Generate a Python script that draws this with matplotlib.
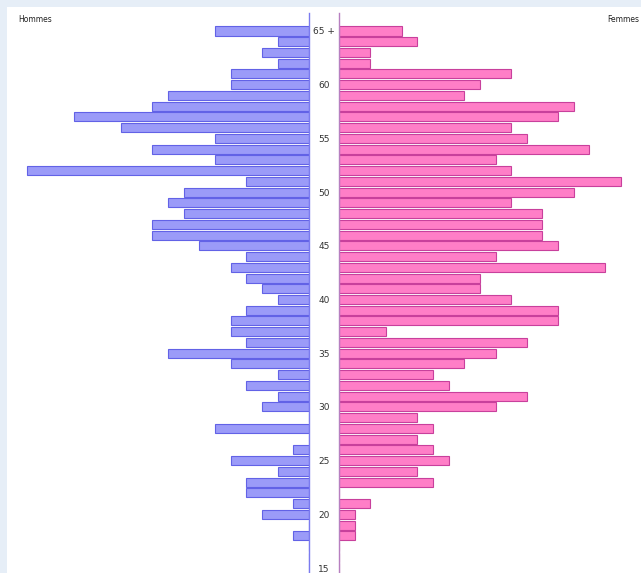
import numpy as np
import matplotlib
matplotlib.use("Agg")
from matplotlib import pyplot as plt

# ages from 65+ down to 15
ages = np.arange(65, 14, -1)
# counts (Hommes / Femmes), same order as ages
hommes = [6, 2, 3, 2, 5, 5, 9, 10, 15, 12,
          6, 10, 6, 18, 4, 8, 9, 8, 10, 10,
          7, 4, 5, 4, 3, 2, 4, 5, 5, 4,
          9, 5, 2, 4, 2, 3, 0, 6, 0, 1,
          5, 2, 4, 4, 1, 3, 0, 1, 0, 0, 0]
femmes = [4, 5, 2, 2, 11, 9, 8, 15, 14, 11,
          12, 16, 10, 11, 18, 15, 11, 13, 13, 13,
          14, 10, 17, 9, 9, 11, 14, 14, 3, 12,
          10, 8, 6, 7, 12, 10, 5, 6, 5, 6,
          7, 5, 6, 0, 2, 1, 1, 1, 0, 0, 0]
tick_ages = [65, 60, 55, 50, 45, 40, 35, 30, 25, 20, 15]
tick_labels = ['65 +', '60', '55', '50', '45', '40', '35', '30', '25', '20', '15']

W, H = 641, 573
fig = plt.figure(figsize=(W / 100, H / 100), dpi=100)
fig.patch.set_facecolor('#e6eef7')

# white panel
panel = fig.add_axes([7 / W, 0, (W - 7) / W, (H - 7) / H])
panel.set_facecolor('white')
panel.set_xticks([])
panel.set_yticks([])
for s in panel.spines.values():
    s.set_visible(False)

unit = 15.65   # px per person
row = 10.74    # px per year
top_px, bot_px = 13, 573
ytop = 65 + (31 - top_px) / row
ybot = 15 - (bot_px - 568) / row

ax_l = fig.add_axes([7 / W, 0, (309 - 7) / W, (H - top_px) / H])
ax_r = fig.add_axes([339 / W, 0, (W - 339) / W, (H - top_px) / H])

ax_l.barh(ages, hommes, height=0.84, color='#9b9bf8', edgecolor='#6262e6', linewidth=0.8)
ax_r.barh(ages, femmes, height=0.84, color='#ff7ec7', edgecolor='#c8409c', linewidth=0.8)

ax_l.set_xlim((309 - 7) / unit, 0)
ax_r.set_xlim(0, (W - 339) / unit)
for ax in (ax_l, ax_r):
    ax.set_ylim(ybot, ytop)
    ax.patch.set_alpha(0)
    ax.set_xticks([])
    for s in ax.spines.values():
        s.set_visible(False)

ax_l.set_yticks([])
ax_l.spines['right'].set_visible(True)
ax_l.spines['right'].set_color('#7b7bef')
ax_l.spines['right'].set_linewidth(1.0)

ax_r.spines['left'].set_visible(True)
ax_r.spines['left'].set_color('#b77fc0')
ax_r.spines['left'].set_linewidth(1.0)
ax_r.set_yticks(tick_ages)
ax_r.set_yticklabels(tick_labels, fontsize=6.5, color='#333333')
ax_r.tick_params(axis='y', length=0, pad=10.8)
for lab in ax_r.get_yticklabels():
    lab.set_horizontalalignment('center')

fig.text(18 / W, 1 - 19 / H, 'Hommes', fontsize=5.5, color='#222222', va='center', ha='left')
fig.text(639 / W, 1 - 19 / H, 'Femmes', fontsize=5.5, color='#222222', va='center', ha='right')

plt.savefig('out.png', dpi=100, facecolor=fig.get_facecolor())
